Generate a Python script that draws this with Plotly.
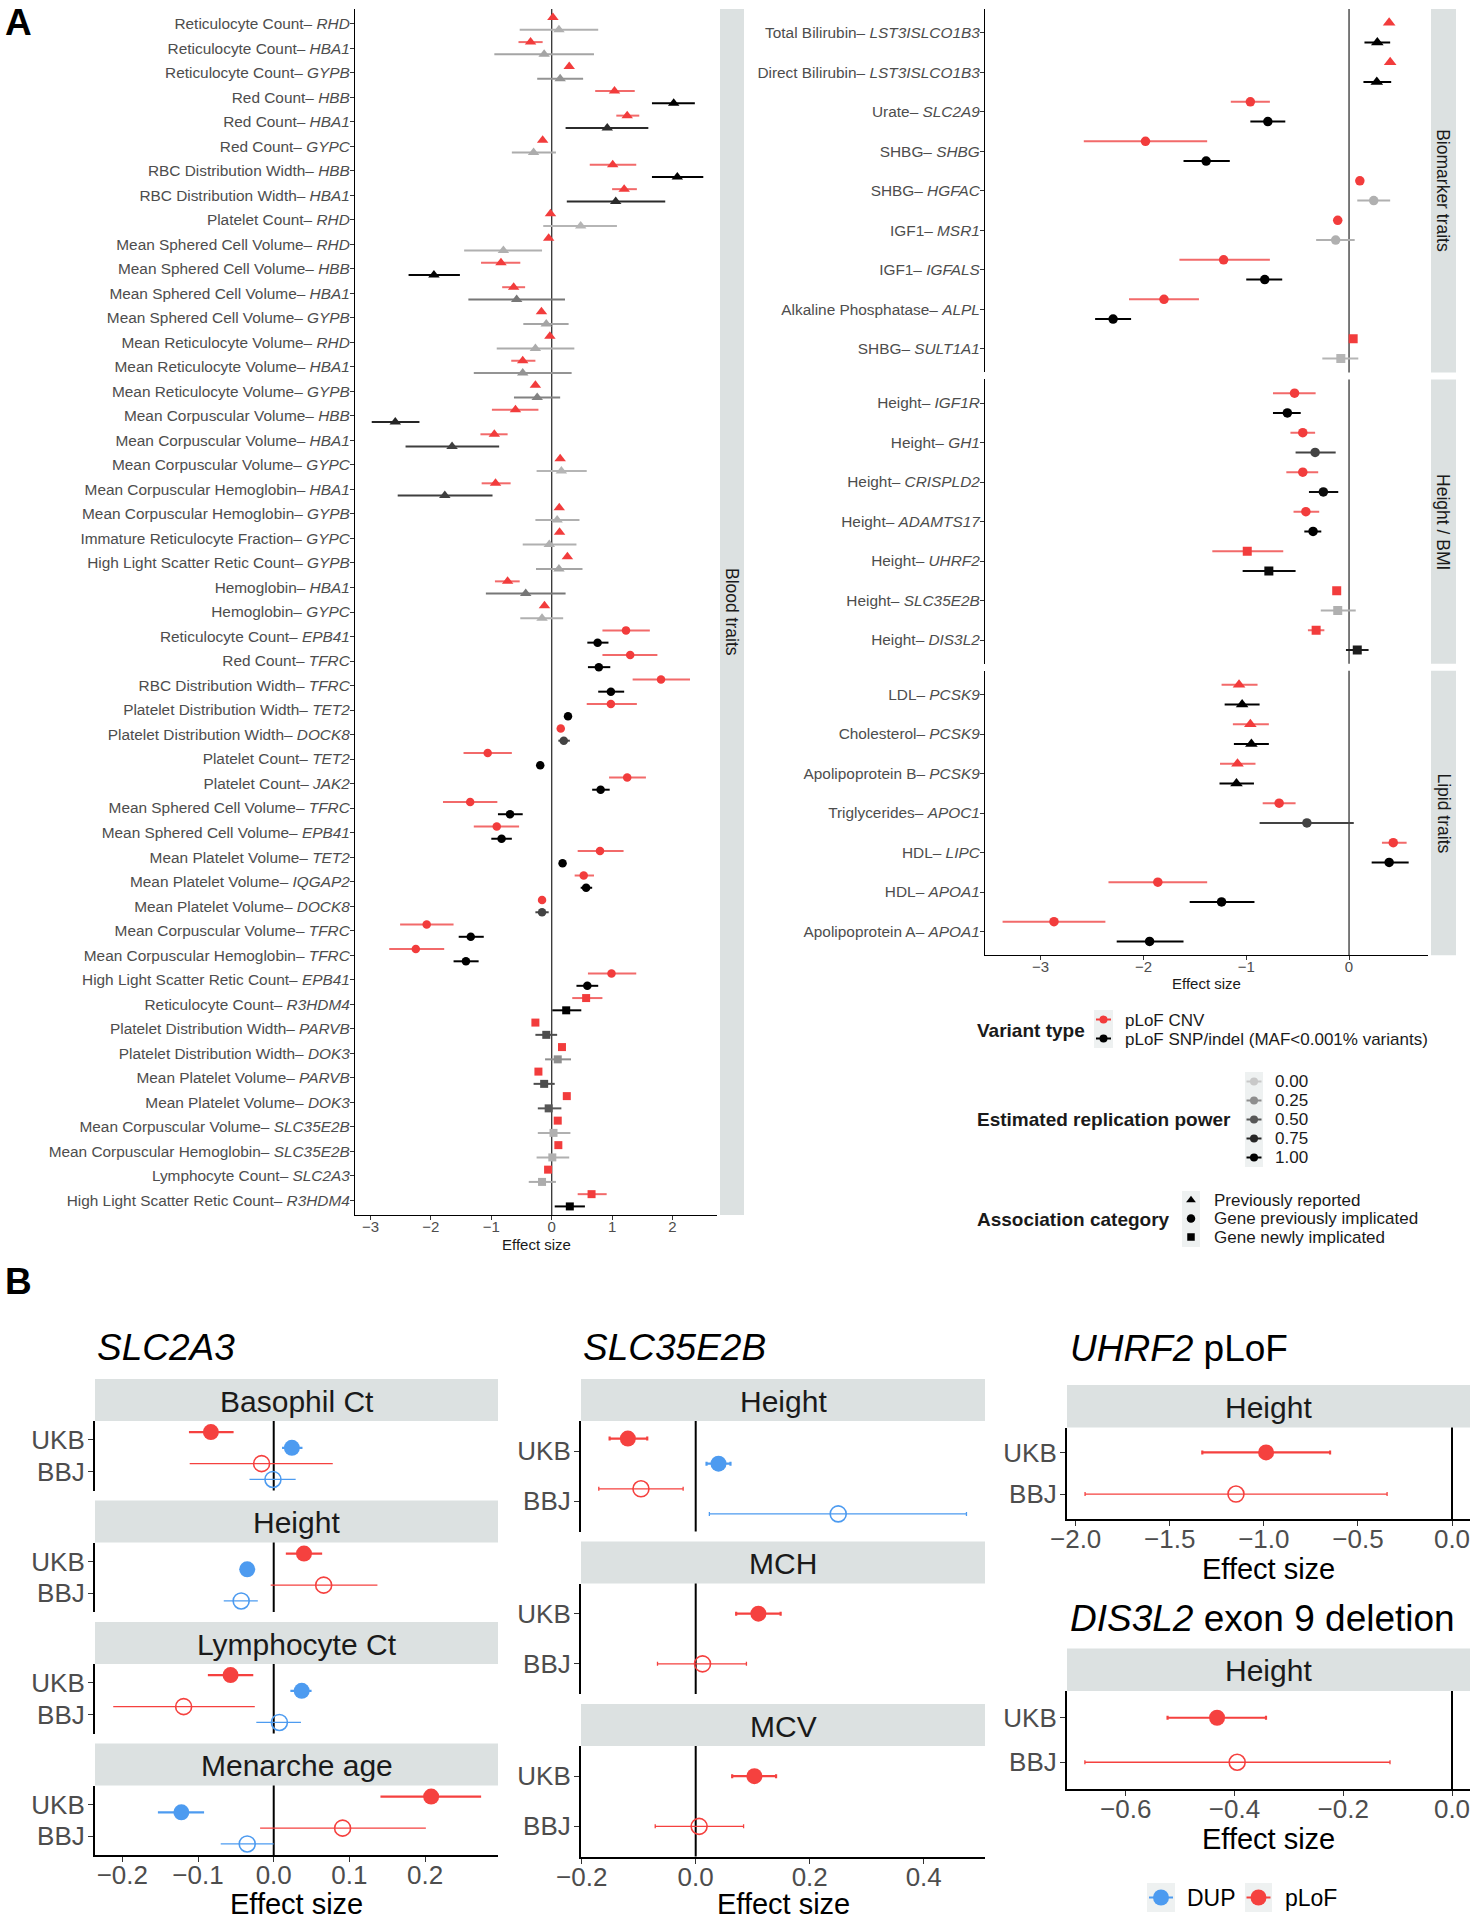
import plotly.graph_objects as go

W, H = 1474, 1920
FONT = "Liberation Sans, Arial, Helvetica, sans-serif"
RED = "#F23C3C"
RED_ERR = "#F26A6A"
RED_B = "#F5413F"
BLUE_B = "#4D9BF0"
STRIP = "#DCE1E1"
KEYBG = "#EEF1F1"

# ================= Panel A (left): blood traits =================
blood_trait = [
    "Reticulocyte Count", "Reticulocyte Count", "Reticulocyte Count", "Red Count", "Red Count", "Red Count",
    "RBC Distribution Width", "RBC Distribution Width", "Platelet Count", "Mean Sphered Cell Volume",
    "Mean Sphered Cell Volume", "Mean Sphered Cell Volume", "Mean Sphered Cell Volume", "Mean Reticulocyte Volume",
    "Mean Reticulocyte Volume", "Mean Reticulocyte Volume", "Mean Corpuscular Volume", "Mean Corpuscular Volume",
    "Mean Corpuscular Volume", "Mean Corpuscular Hemoglobin", "Mean Corpuscular Hemoglobin",
    "Immature Reticulocyte Fraction", "High Light Scatter Retic Count", "Hemoglobin", "Hemoglobin",
    "Reticulocyte Count", "Red Count", "RBC Distribution Width", "Platelet Distribution Width",
    "Platelet Distribution Width", "Platelet Count", "Platelet Count", "Mean Sphered Cell Volume",
    "Mean Sphered Cell Volume", "Mean Platelet Volume", "Mean Platelet Volume", "Mean Platelet Volume",
    "Mean Corpuscular Volume", "Mean Corpuscular Hemoglobin", "High Light Scatter Retic Count",
    "Reticulocyte Count", "Platelet Distribution Width", "Platelet Distribution Width", "Mean Platelet Volume",
    "Mean Platelet Volume", "Mean Corpuscular Volume", "Mean Corpuscular Hemoglobin", "Lymphocyte Count",
    "High Light Scatter Retic Count"]
blood_gene = [
    "RHD", "HBA1", "GYPB", "HBB", "HBA1", "GYPC", "HBB", "HBA1", "RHD", "RHD", "HBB", "HBA1", "GYPB", "RHD",
    "HBA1", "GYPB", "HBB", "HBA1", "GYPC", "HBA1", "GYPB", "GYPC", "GYPB", "HBA1", "GYPC",
    "EPB41", "TFRC", "TFRC", "TET2", "DOCK8", "TET2", "JAK2", "TFRC", "EPB41", "TET2", "IQGAP2", "DOCK8",
    "TFRC", "TFRC", "EPB41",
    "R3HDM4", "PARVB", "DOK3", "PARVB", "DOK3", "SLC35E2B", "SLC35E2B", "SLC2A3", "R3HDM4"]
blood_category = ["reported"] * 25 + ["implicated"] * 15 + ["new"] * 9
blood_cnv_beta = [0.02, -0.35, 0.29, 1.04, 1.25, -0.15, 1.01, 1.20, -0.02, -0.05, -0.84, -0.63, -0.17, -0.03,
                  -0.48, -0.27, -0.60, -0.95, 0.14, -0.93, 0.125, 0.13, 0.26, -0.73, -0.12,
                  1.23, 1.30, 1.81, 0.98, 0.15, -1.06, 1.25, -1.35, -0.91, 0.80, 0.53, -0.16, -2.07, -2.25, 0.99,
                  0.57, -0.27, 0.17, -0.22, 0.25, 0.10, 0.11, -0.06, 0.66]
blood_cnv_lo = [-0.01, -0.55, 0.25, 0.72, 1.07, -0.19, 0.63, 1.00, -0.05, -0.08, -1.17, -0.82, -0.20, -0.06,
                -0.67, -0.31, -0.99, -1.18, 0.11, -1.16, 0.095, 0.10, 0.23, -0.94, -0.15,
                0.84, 0.84, 1.34, 0.58, 0.12, -1.46, 0.95, -1.80, -1.29, 0.43, 0.38, -0.19, -2.51, -2.69, 0.60,
                0.34, -0.30, 0.14, -0.25, 0.22, 0.07, 0.08, -0.09, 0.43]
blood_cnv_hi = [0.05, -0.15, 0.33, 1.375, 1.45, -0.11, 1.40, 1.41, 0.01, -0.02, -0.52, -0.44, -0.14, 0.00,
                -0.27, -0.23, -0.22, -0.73, 0.17, -0.68, 0.155, 0.16, 0.29, -0.53, -0.09,
                1.625, 1.75, 2.29, 1.41, 0.18, -0.66, 1.56, -0.90, -0.54, 1.19, 0.70, -0.13, -1.625, -1.78, 1.40,
                0.84, -0.24, 0.20, -0.19, 0.28, 0.13, 0.14, -0.03, 0.91]
blood_snp_beta = [0.12, -0.125, 0.14, 2.02, 0.92, -0.30, 2.08, 1.06, 0.48, -0.80, -1.95, -0.58, -0.09, -0.27,
                  -0.48, -0.24, -2.59, -1.65, 0.16, -1.77, 0.09, -0.04, 0.12, -0.43, -0.16,
                  0.76, 0.78, 0.98, 0.27, 0.20, -0.19, 0.81, -0.69, -0.83, 0.18, 0.57, -0.16, -1.34, -1.42, 0.59,
                  0.24, -0.09, 0.10, -0.125, -0.05, 0.03, 0.01, -0.16, 0.30]
blood_snp_lo = [-0.53, -0.95, -0.24, 1.66, 0.23, -0.66, 1.66, 0.25, -0.14, -1.45, -2.37, -1.38, -0.47, -0.91,
                -1.29, -0.625, -2.98, -2.42, -0.25, -2.55, -0.27, -0.48, -0.26, -1.09, -0.52,
                0.59, 0.60, 0.77, 0.24, 0.11, -0.22, 0.67, -0.89, -1.00, 0.15, 0.48, -0.27, -1.54, -1.625, 0.41,
                0.01, -0.27, -0.11, -0.30, -0.23, -0.23, -0.25, -0.38, 0.05]
blood_snp_hi = [0.77, 0.70, 0.52, 2.37, 1.60, 0.07, 2.51, 1.88, 1.08, -0.16, -1.52, 0.22, 0.28, 0.375,
                0.33, 0.14, -2.19, -0.87, 0.58, -0.98, 0.46, 0.41, 0.51, 0.23, 0.19,
                0.94, 0.97, 1.20, 0.30, 0.30, -0.16, 0.96, -0.48, -0.66, 0.21, 0.67, -0.05, -1.125, -1.21, 0.77,
                0.49, 0.09, 0.32, 0.05, 0.16, 0.31, 0.29, 0.07, 0.55]
blood_snp_power = [0.10, 0.15, 0.22, 1.0, 0.72, 0.12, 1.0, 0.72, 0.08, 0.10, 0.95, 0.35, 0.15, 0.12,
                   0.22, 0.30, 0.75, 0.62, 0.08, 0.62, 0.10, 0.10, 0.15, 0.35, 0.10,
                   1.0, 1.0, 1.0, 1.0, 0.6, 1.0, 1.0, 1.0, 1.0, 1.0, 1.0, 0.6, 1.0, 1.0, 1.0,
                   1.0, 0.55, 0.25, 0.55, 0.5, 0.10, 0.10, 0.12, 1.0]

# ================= Panel A (right): biomarker / height / lipid =================
other_group = ["Biomarker traits"] * 9 + ["Height / BMI"] * 7 + ["Lipid traits"] * 7
other_trait = ["Total Bilirubin", "Direct Bilirubin", "Urate", "SHBG", "SHBG", "IGF1", "IGF1",
               "Alkaline Phosphatase", "SHBG",
               "Height", "Height", "Height", "Height", "Height", "Height", "Height",
               "LDL", "Cholesterol", "Apolipoprotein B", "Triglycerides", "HDL", "HDL", "Apolipoprotein A"]
other_gene = ["LST3ISLCO1B3", "LST3ISLCO1B3", "SLC2A9", "SHBG", "HGFAC", "MSR1", "IGFALS", "ALPL", "SULT1A1",
              "IGF1R", "GH1", "CRISPLD2", "ADAMTS17", "UHRF2", "SLC35E2B", "DIS3L2",
              "PCSK9", "PCSK9", "PCSK9", "APOC1", "LIPC", "APOA1", "APOA1"]
other_category = ["reported", "reported", "implicated", "implicated", "implicated", "implicated", "implicated",
                  "implicated", "new",
                  "implicated", "implicated", "implicated", "implicated", "new", "new", "new",
                  "reported", "reported", "reported", "implicated", "implicated", "implicated", "implicated"]
other_cnv_beta = [0.39, 0.40, -0.96, -1.98, 0.105, -0.11, -1.22, -1.80, 0.04,
                  -0.53, -0.45, -0.45, -0.42, -0.99, -0.12, -0.32,
                  -1.07, -0.96, -1.085, -0.68, 0.43, -1.86, -2.87]
other_cnv_lo = [0.37, 0.38, -1.15, -2.58, 0.085, -0.13, -1.65, -2.14, 0.02,
                -0.74, -0.57, -0.61, -0.54, -1.33, -0.14, -0.40,
                -1.24, -1.13, -1.255, -0.84, 0.32, -2.34, -3.37]
other_cnv_hi = [0.41, 0.42, -0.77, -1.38, 0.125, -0.09, -0.77, -1.46, 0.06,
                -0.325, -0.33, -0.30, -0.29, -0.64, -0.10, -0.24,
                -0.89, -0.78, -0.91, -0.52, 0.56, -1.38, -2.37]
other_snp_beta = [0.275, 0.27, -0.79, -1.39, 0.24, -0.13, -0.82, -2.295, -0.08,
                  -0.60, -0.33, -0.25, -0.35, -0.78, -0.11, 0.08,
                  -1.04, -0.95, -1.095, -0.41, 0.39, -1.24, -1.94]
other_snp_lo = [0.15, 0.14, -0.96, -1.61, 0.08, -0.32, -1.00, -2.47, -0.26,
                -0.74, -0.52, -0.39, -0.435, -1.035, -0.275, -0.03,
                -1.21, -1.12, -1.26, -0.87, 0.22, -1.55, -2.26]
other_snp_hi = [0.40, 0.41, -0.62, -1.16, 0.40, 0.055, -0.65, -2.12, 0.09,
                -0.47, -0.13, -0.105, -0.27, -0.52, 0.065, 0.19,
                -0.87, -0.78, -0.925, 0.046, 0.58, -0.92, -1.61]
other_snp_power = [1.0, 1.0, 1.0, 1.0, 0.10, 0.10, 1.0, 1.0, 0.08,
                   1.0, 0.6, 0.9, 1.0, 0.92, 0.10, 0.8,
                   1.0, 1.0, 1.0, 0.6, 1.0, 1.0, 1.0]

axisA_left_ticks = [-3, -2, -1, 0, 1, 2]
axisA_right_ticks = [-3, -2, -1, 0]

# ================= Panel B =================
study_labels = ["UKB", "BBJ"]
slc2a3_traits = ["Basophil Ct", "Height", "Lymphocyte Ct", "Menarche age"]
slc2a3_plof_ukb = [(-0.083, -0.112, -0.053), (0.040, 0.016, 0.064), (-0.057, -0.087, -0.027), (0.208, 0.141, 0.274)]
slc2a3_plof_bbj = [(-0.016, -0.111, 0.078), (0.066, -0.004, 0.137), (-0.119, -0.212, -0.025), (0.091, -0.018, 0.201)]
slc2a3_dup_ukb = [(0.024, 0.011, 0.038), (-0.035, -0.043, -0.027), (0.037, 0.022, 0.050), (-0.122, -0.153, -0.092)]
slc2a3_dup_bbj = [(-0.001, -0.032, 0.029), (-0.043, -0.066, -0.021), (0.0075, -0.023, 0.036), (-0.035, -0.070, 0.0)]

slc35_traits = ["Height", "MCH", "MCV"]
slc35_plof_ukb = [(-0.119, -0.151, -0.085), (0.110, 0.071, 0.149), (0.103, 0.064, 0.141)]
slc35_plof_bbj = [(-0.096, -0.170, -0.022), (0.012, -0.067, 0.089), (0.006, -0.071, 0.084)]
slc35_dup_ukb = [(0.040, 0.019, 0.061), None, None]
slc35_dup_bbj = [(0.250, 0.024, 0.475), None, None]

uhrf2_plof = [(-0.988, -1.327, -0.648), (-1.148, -1.950, -0.345)]
dis3l2_plof = [(-0.432, -0.523, -0.342), (-0.395, -0.675, -0.114)]

ticks_slc2a3 = [-0.2, -0.1, 0.0, 0.1, 0.2]
ticks_slc35 = [-0.2, 0.0, 0.2, 0.4]
ticks_uhrf2 = [-2.0, -1.5, -1.0, -0.5, 0.0]
ticks_dis3l2 = [-0.6, -0.4, -0.2, 0.0]

# ================= helpers =================
fig = go.Figure()
layout = dict(width=W, height=H, margin=dict(l=0, r=0, t=0, b=0, pad=0, autoexpand=False),
              paper_bgcolor="white", plot_bgcolor="rgba(0,0,0,0)", showlegend=False, font=dict(family=FONT))
shapes, annots = [], []


def axn(n, t):
    return f"{t}axis" if n == 1 else f"{t}axis{n}"


def ref(n, t):
    return t if n == 1 else f"{t}{n}"


def fmt(v, dec):
    s = f"{abs(v):.{dec}f}"
    return ("\u2212" + s) if v < 0 else s


def set_axes(n, xpx, ypx, xr, yr, xshow, xtv=None, xdec=0, xfs=15, ytv=None, ytt=None, yfs=15,
             lw=1.2, tl=4, xso=0, yso=0):
    xa = dict(domain=[xpx[0] / W, xpx[1] / W], range=xr, anchor=ref(n, "y"), showgrid=False, zeroline=False,
              fixedrange=True, automargin=False)
    if xshow:
        xa.update(showline=True, linecolor="black", linewidth=lw, ticks="outside", ticklen=tl, tickwidth=1,
                  tickcolor="#333333", tickmode="array", tickvals=xtv, ticktext=[fmt(v, xdec) for v in xtv],
                  tickfont=dict(size=xfs, color="#4D4D4D", family=FONT), ticklabelstandoff=xso)
    else:
        xa.update(showline=False, showticklabels=False, ticks="")
    ya = dict(domain=[1 - ypx[1] / H, 1 - ypx[0] / H], range=yr, anchor=ref(n, "x"), showgrid=False,
              zeroline=False, showline=True, linecolor="black", linewidth=lw, ticks="outside", ticklen=tl,
              tickwidth=1, tickcolor="#333333", tickmode="array", tickvals=ytv, ticktext=ytt,
              tickfont=dict(size=yfs, color="#4D4D4D", family=FONT), fixedrange=True, automargin=False,
              ticklabelstandoff=yso)
    layout[axn(n, "x")] = xa
    layout[axn(n, "y")] = ya


def zero_line(n, color, width):
    shapes.append(dict(type="line", xref=ref(n, "x"), yref=ref(n, "y") + " domain", x0=0, x1=0, y0=0, y1=1,
                       line=dict(color=color, width=width), layer="below"))


def strip(x0, y0, x1, y1):
    shapes.append(dict(type="rect", xref="paper", yref="paper", x0=x0 / W, x1=x1 / W, y0=1 - y1 / H,
                       y1=1 - y0 / H, fillcolor=STRIP, line=dict(width=0), layer="below"))


def ann(text, x, y, size, xanchor="left", color="#1A1A1A", angle=0, yanchor="middle"):
    annots.append(dict(text=text, x=x / W, y=1 - y / H, xref="paper", yref="paper", showarrow=False,
                       xanchor=xanchor, yanchor=yanchor, textangle=angle,
                       font=dict(size=size, color=color, family=FONT)))


def point(n, b, lo, hi, y, symbol, size, color, ecolor, thick, cap=0, lwidth=0):
    fig.add_trace(go.Scatter(
        x=[b], y=[y], mode="markers",
        marker=dict(symbol=symbol, size=size, color=color, line=dict(width=lwidth, color=color)),
        error_x=dict(type="data", symmetric=False, array=[hi - b], arrayminus=[b - lo], color=ecolor,
                     thickness=thick, width=cap),
        xaxis=ref(n, "x"), yaxis=ref(n, "y"), hoverinfo="skip"))


def grey(p):
    g = int(round(200 * (1 - p) ** 1.2))
    return f"rgb({g},{g},{g})"


SYM = {"reported": "triangle-up", "implicated": "circle", "new": "square"}

# ================= Panel A left =================
nA = len(blood_trait)
labelsA = [f"{t}\u2013 <i>{g}</i>" for t, g in zip(blood_trait, blood_gene)]
set_axes(1, (355, 717), (9, 1215), [-3.257, 2.737], [nA + 0.6, 0.4], True, axisA_left_ticks, 0, 15,
         list(range(1, nA + 1)), labelsA, 15.4, xso=-6, yso=-3)
zero_line(1, "#333333", 1.3)
sizeA = {"reported": 10, "implicated": 8.5, "new": 8}
for i in range(nA):
    c = blood_category[i]
    point(1, blood_cnv_beta[i], blood_cnv_lo[i], blood_cnv_hi[i], i + 1 - 0.25, SYM[c], sizeA[c], RED,
          RED_ERR, 2)
    col = grey(blood_snp_power[i])
    point(1, blood_snp_beta[i], blood_snp_lo[i], blood_snp_hi[i], i + 1 + 0.25, SYM[c], sizeA[c], col, col, 2)
strip(720, 9, 744, 1215)
ann("Blood traits", 732, 612, 17.5, xanchor="center", angle=90)
ann("Effect size", 536, 1244, 15, xanchor="center")

# ================= Panel A right =================
sizeR = {"reported": 11, "implicated": 9.5, "new": 9}
groups = [("Biomarker traits", 2, (9, 372.4)), ("Height / BMI", 3, (379.4, 663.8)), ("Lipid traits", 4, (670.8, 955.2))]
for gname, n, ypx in groups:
    idx = [k for k, g in enumerate(other_group) if g == gname]
    m = len(idx)
    labs = [f"{other_trait[k]}\u2013 <i>{other_gene[k]}</i>" for k in idx]
    set_axes(n, (985, 1428), ypx, [-3.541, 0.768], [m + 0.6, 0.4], n == 4, axisA_right_ticks, 0, 15,
             list(range(1, m + 1)), labs, 15.4, xso=-6, yso=-3)
    zero_line(n, "#333333", 1.3)
    for j, k in enumerate(idx):
        c = other_category[k]
        point(n, other_cnv_beta[k], other_cnv_lo[k], other_cnv_hi[k], j + 1 - 0.25, SYM[c], sizeR[c], RED,
              RED_ERR, 2)
        col = grey(other_snp_power[k])
        point(n, other_snp_beta[k], other_snp_lo[k], other_snp_hi[k], j + 1 + 0.25, SYM[c], sizeR[c], col,
              col, 2)
    strip(1431, ypx[0], 1456, ypx[1])
    ann(gname, 1443.5, (ypx[0] + ypx[1]) / 2, 17.5, xanchor="center", angle=90)
ann("Effect size", 1206, 984, 15, xanchor="center")

# ---- Legend A ----
def key_bg(x0, y0, x1, y1):
    shapes.append(dict(type="rect", xref="paper", yref="paper", x0=x0 / W, x1=x1 / W, y0=1 - y1 / H,
                       y1=1 - y0 / H, fillcolor=KEYBG, line=dict(width=0), layer="below"))


def key_glyph(x, y, symbol, size, color, half=0, lw=2):
    if half > 0:
        fig.add_trace(go.Scatter(x=[x - half, x + half], y=[y, y], mode="lines", line=dict(color=color, width=lw),
                                 xaxis="x14", yaxis="y14", hoverinfo="skip"))
    fig.add_trace(go.Scatter(x=[x], y=[y], mode="markers", marker=dict(symbol=symbol, size=size, color=color),
                             xaxis="x14", yaxis="y14", hoverinfo="skip"))


ann("<b>Variant type</b>", 975, 1030, 19)
key_bg(1094, 1010, 1113, 1048)
key_glyph(1103.5, 1019.5, "circle", 8, RED, 7.5)
key_glyph(1103.5, 1038.5, "circle", 8, "black", 7.5)
ann("pLoF CNV", 1123, 1020, 17)
ann("pLoF SNP/indel (MAF&lt;0.001% variants)", 1123, 1039, 17)

power_levels = [0.0, 0.25, 0.5, 0.75, 1.0]
ann("<b>Estimated replication power</b>", 975, 1119, 19)
key_bg(1245, 1072, 1263, 1167)
for k, p in enumerate(power_levels):
    yk = 1081.5 + 19 * k
    key_glyph(1254, yk, "circle", 8, grey(p), 7.5)
    ann(f"{p:.2f}", 1273, yk, 17)

cat_labels = ["Previously reported", "Gene previously implicated", "Gene newly implicated"]
cat_keys = ["reported", "implicated", "new"]
ann("<b>Association category</b>", 975, 1219, 19)
key_bg(1182, 1191, 1200, 1247)
for k, (lab, ck) in enumerate(zip(cat_labels, cat_keys)):
    yk = 1200 + 18.5 * k
    key_glyph(1191, yk, SYM[ck], 8.5 if ck != "new" else 7.5, "black")
    ann(lab, 1212, yk, 17)

# ================= Panel B =================
B_TICKFS = 26
B_MS = 16


def b_facet(n, xpx, ypx, xr, show_x, xticks, plof_u, plof_b, dup_u, dup_b, cap):
    set_axes(n, xpx, ypx, xr, [2.6, 0.4], show_x, xticks, 1, B_TICKFS, [1, 2], study_labels, B_TICKFS,
             lw=2, tl=5, xso=-9, yso=-2)
    zero_line(n, "black", 2)
    both = dup_u is not None
    off = 0.25 if both else 0.0
    for ystudy, pl, filled in [(1, plof_u, True), (2, plof_b, False)]:
        if pl is not None:
            point(n, pl[0], pl[1], pl[2], ystudy - off, "circle" if filled else "circle-open", B_MS, RED_B,
                  RED_B, 2.2 if filled else 1.3, cap, 0 if filled else 1.6)
    for ystudy, dp, filled in [(1, dup_u, True), (2, dup_b, False)]:
        if dp is not None:
            point(n, dp[0], dp[1], dp[2], ystudy + off, "circle" if filled else "circle-open", B_MS, BLUE_B,
                  BLUE_B, 2.2 if filled else 1.3, cap, 0 if filled else 1.6)


ann("<b>A</b>", 3, 23, 37, color="black")
ann("<b>B</b>", 3, 1281, 37, color="black")

# SLC2A3
ann("<i>SLC2A3</i>", 95, 1347, 37, color="black")
y0 = 1379
for k, tr in enumerate(slc2a3_traits):
    n = 5 + k
    s0, s1 = y0, y0 + 42
    p1 = s1 + 69.5
    strip(95, s0, 498, s1)
    ann(tr, (95 + 498) / 2, (s0 + s1) / 2 + 1, 30, xanchor="center")
    b_facet(n, (95, 498), (s1, p1), [-0.2361, 0.2963], k == 3, ticks_slc2a3,
            slc2a3_plof_ukb[k], slc2a3_plof_bbj[k], slc2a3_dup_ukb[k], slc2a3_dup_bbj[k], 0)
    y0 = p1 + 10
ann("Effect size", 296.5, 1904, 29, xanchor="center", color="black")

# SLC35E2B
ann("<i>SLC35E2B</i>", 581, 1347, 37, color="black")
y0 = 1379
for k, tr in enumerate(slc35_traits):
    n = 9 + k
    s0, s1 = y0, y0 + 42
    p1 = s1 + 110.5
    strip(581, s0, 985, s1)
    ann(tr, (581 + 985) / 2, (s0 + s1) / 2 + 1, 30, xanchor="center")
    b_facet(n, (581, 985), (s1, p1), [-0.2012, 0.5075], k == 2, ticks_slc35,
            slc35_plof_ukb[k], slc35_plof_bbj[k], slc35_dup_ukb[k], slc35_dup_bbj[k], 2)
    y0 = p1 + 10
ann("Effect size", 783, 1904, 29, xanchor="center", color="black")

# UHRF2
ann("<i>UHRF2</i> pLoF", 1068, 1348, 37, color="black")
strip(1067, 1385, 1470, 1427.5)
ann("Height", (1067 + 1470) / 2, 1407, 30, xanchor="center")
b_facet(12, (1067, 1470), (1427.5, 1519), [-2.046, 0.0956], True, ticks_uhrf2,
        uhrf2_plof[0], uhrf2_plof[1], None, None, 2)
ann("Effect size", 1268.5, 1569, 29, xanchor="center", color="black")

# DIS3L2
ann("<i>DIS3L2</i> exon 9 deletion", 1068, 1618, 37, color="black")
strip(1067, 1648.5, 1470, 1691)
ann("Height", (1067 + 1470) / 2, 1670.5, 30, xanchor="center")
b_facet(13, (1067, 1470), (1691, 1789), [-0.7079, 0.0331], True, ticks_dis3l2,
        dis3l2_plof[0], dis3l2_plof[1], None, None, 2)
ann("Effect size", 1268.5, 1839, 29, xanchor="center", color="black")

# Legend B
key_bg(1147, 1883, 1175, 1912)
key_bg(1245, 1883, 1272, 1912)
key_glyph(1161, 1897.5, "circle", 16, BLUE_B, 12)
key_glyph(1258.5, 1897.5, "circle", 16, RED_B, 12)
ann("DUP", 1185, 1898, 23, color="black")
ann("pLoF", 1283, 1898, 23, color="black")

# overlay axis (pixel space) for legend glyphs
layout["xaxis14"] = dict(domain=[0, 1], range=[0, W], visible=False, anchor="y14", fixedrange=True,
                         automargin=False)
layout["yaxis14"] = dict(domain=[0, 1], range=[H, 0], visible=False, anchor="x14", fixedrange=True,
                         automargin=False)

layout["shapes"] = shapes
layout["annotations"] = annots
fig.update_layout(**layout)
fig.write_html("out.html", config={"displayModeBar": False},
               post_script="document.body.style.margin='0px';")
